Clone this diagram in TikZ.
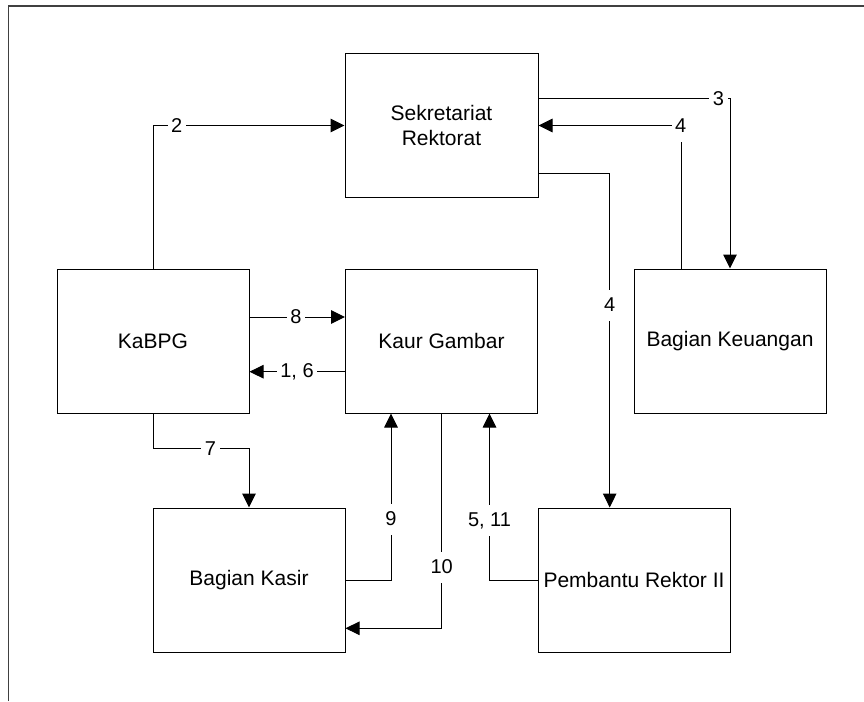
\documentclass[tikz,border=0pt]{standalone}
\usepackage{fontspec}
\setmainfont{Liberation Sans}
\usetikzlibrary{arrows.meta}
\begin{document}
\begin{tikzpicture}[x=1pt,y=-1pt,
  unit/.style={draw=black,line width=1pt,minimum width=192pt,minimum height=144pt,
    inner sep=0pt,align=center,font=\fontsize{21}{25}\selectfont},
  flow/.style={draw=black,line width=1pt},
  arr/.style={flow,-{Triangle[length=14pt,width=13.5pt]}},
  tag/.style={fill=white,inner xsep=3.5pt,inner ysep=0pt,minimum height=31pt,
    font=\fontsize{20}{24}\selectfont},
  frame/.style={draw=black!75,line width=1.3pt}]
\useasboundingbox (0,0) rectangle (864,701);

% page frame
\coordinate (fTL) at (8.5,6);
\coordinate (fTR) at (864,6);
\coordinate (fBL) at (8.5,701);
\draw[frame] (fBL) -- (fTL) -- (fTR);

% units
\node[unit,minimum width=193pt,minimum height=143pt] (sek) at (441.5,125.5) {Sekretariat\\Rektorat};
\node[unit] (kabpg) at (153,341) {KaBPG};
\node[unit] (kaur)  at (441.5,341) {Kaur Gambar};
\node[unit] (keu)   at (730,341) {Bagian Keuangan};
\node[unit] (kasir) at (249,580) {Bagian Kasir};
\node[unit] (pr)    at (634,580) {Pembantu Rektor II};

% flows
\draw[arr] (kabpg.north) |- (sek.west);
\draw[arr] ([yshift=26.8pt]sek.east) -| (keu.north);
\draw[arr] ([xshift=-48.3pt]keu.north) |- (sek.east);
\draw[arr] ([yshift=-48.2pt]sek.east) -| ([xshift=-24.3pt]pr.north);
\draw[arr] ([yshift=24pt]kabpg.east) -- ([yshift=24pt]kaur.west);
\draw[arr] ([yshift=-30.7pt]kaur.west) -- ([yshift=-30.7pt]kabpg.east);
\draw[arr] (kabpg.south) -- ++(0,35.3) -| (kasir.north);
\draw[arr] (kasir.east) -| ([xshift=-50.5pt]kaur.south);
\draw[arr] (kaur.south) |- ([yshift=-48.3pt]kasir.east);
\draw[arr] (pr.west) -| ([xshift=48pt]kaur.south);

% flow numbers
\node[tag] (n2)   at (176.7,126)   {2};
\node[tag] (n3)   at (718.5,98.7)  {3};
\node[tag] (n4a)  at (680.7,126)   {4};
\node[tag] (n4b)  at (609.7,305)   {4};
\node[tag] (n8)   at (296,317)     {8};
\node[tag] (n16)  at (297,371.7)   {1, 6};
\node[tag] (n7)   at (210.5,448.3) {7};
\node[tag] (n9)   at (391,519)     {9};
\node[tag] (n10)  at (441.7,567)   {10};
\node[tag] (n511) at (489.5,520.5) {5, 11};
\end{tikzpicture}
\end{document}
